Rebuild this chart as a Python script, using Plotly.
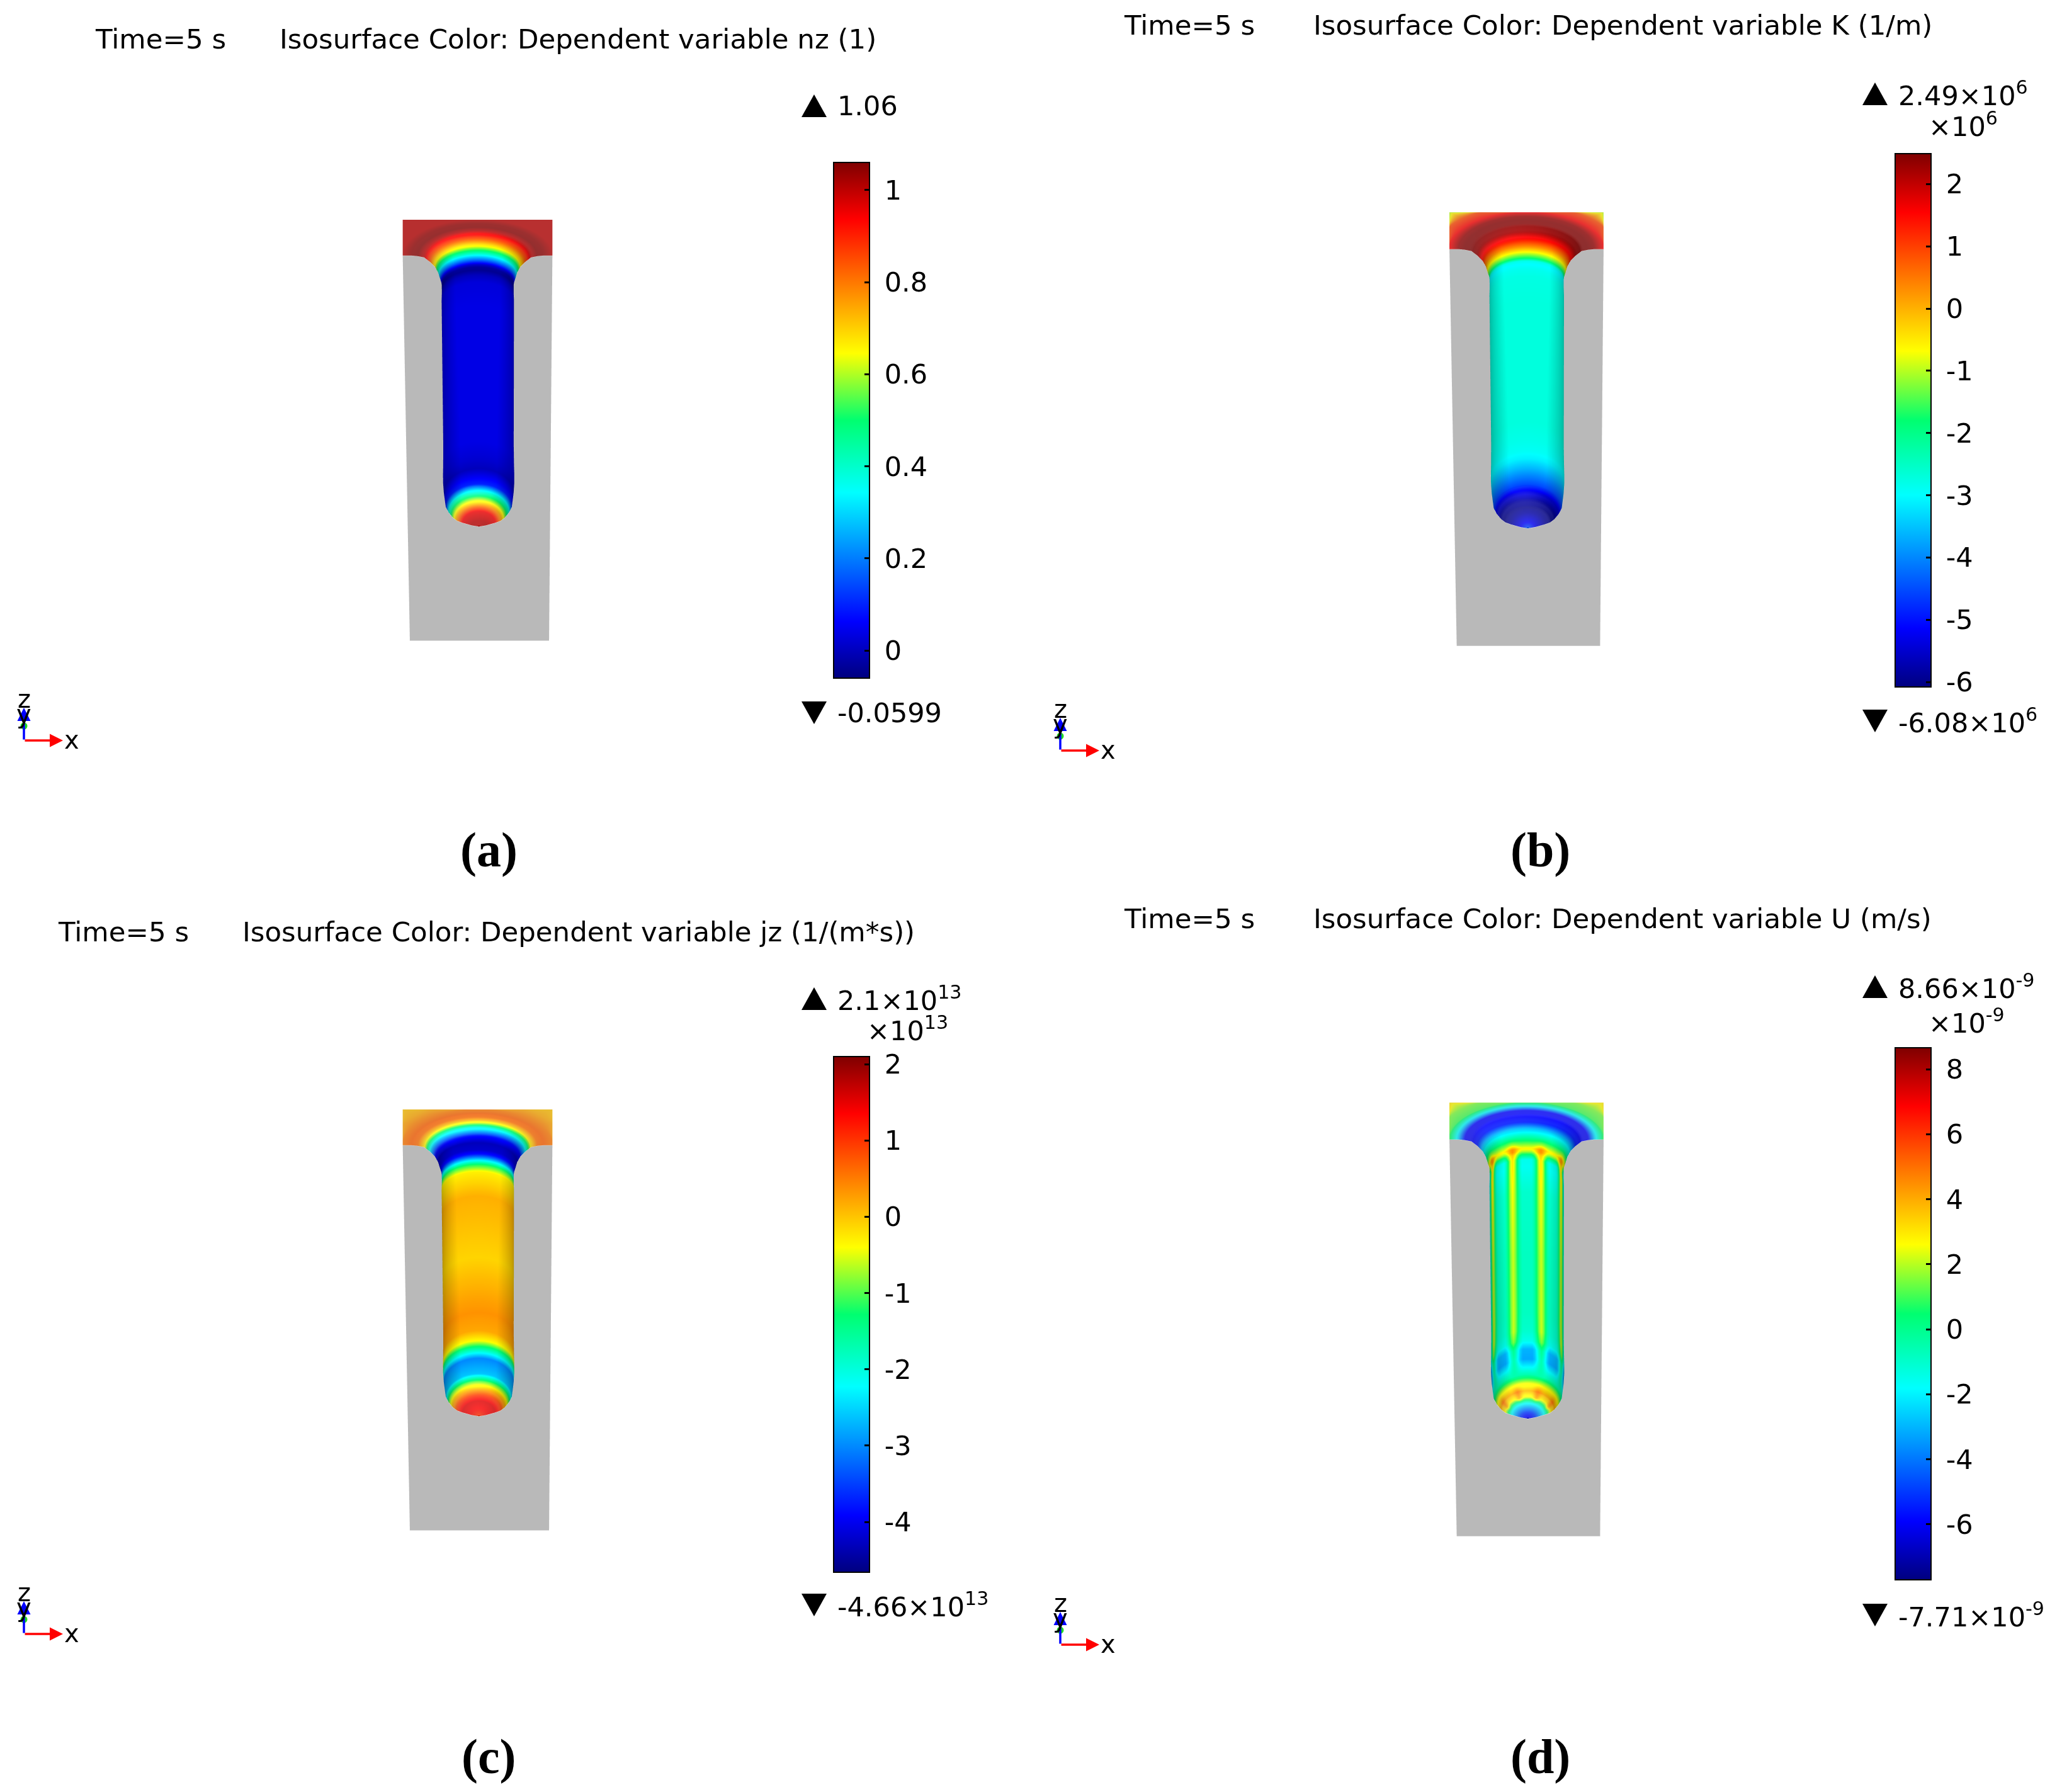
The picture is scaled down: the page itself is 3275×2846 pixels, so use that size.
#!/usr/bin/env python3
"""Four isosurface views of the filled hole at t = 5 s, nz, K, jz and U."""

import numpy as np
import plotly.graph_objects as go

FIG_W, FIG_H = 3275, 2846

# hole profile, bottom pole to square rim in pixels
PROFILE_R = [0, 12, 27, 36, 43, 50, 55, 58, 59, 59, 58.5, 58, 58, 58, 58, 57.5, 57.5, 57.5,
             58, 60, 63, 68, 76, 85, 95, 105, 120, 140, 170]
PROFILE_Z = [181, 183, 187, 190, 195, 203, 212, 235, 250, 263, 280, 310, 400, 500, 540, 552, 560, 565,
             569, 575, 585, 594, 602, 609, 611, 612, 612, 612, 612]

NZ_VALUES = [1.0, 1.0, 0.95, 0.78, 0.6, 0.38, 0.1, 0.0, 0.02, 0.03, 0.04, 0.04, 0.04, 0.04, 0.03, 0.0,
             -0.04, -0.03, 0.02, 0.18, 0.42, 0.65, 0.85, 1.0, 1.05, 1.04, 1.0, 1.0, 1.0]
K_VALUES = [-4.4, -5.2, -5.8, -6.0, -5.9, -5.4, -4.5, -3.6, -3.1, -2.9, -2.8, -2.7, -2.7, -2.7, -2.75, -2.85,
            -3.0, -2.8, -1.8, -1.0, 0.3, 1.4, 2.3, 2.45, 2.45, 2.3, 1.5, 0.9, -1.0]
JZ_VALUES = [1.0, 1.3, 1.5, 1.0, 0.2, -1.0, -2.6, -3.0, -1.6, -0.4, 0.2, 0.35, -0.1, 0.15, -0.3, -1.2,
             -2.4, -3.2, -3.8, -4.2, -4.3, -3.8, -2.2, -0.2, 0.6, 0.7, 0.5, 0.2, 0.0]
U_BETWEEN = [-6.5, -5.0, -1.5, 2.5, 4.0, 2.2, -0.5, -3.2, -3.0, -1.5, -1.0, -0.8, -0.8, -1.0, -1.6, -1.5,
             0.5, 2.0, 2.8, 1.5, -0.5, -2.5, -5.5, -6.0, -6.0, -2.5, 1.0, 1.5, 3.0]
U_ON_RIB = [-6.5, -5.0, -1.5, 4.0, 5.0, 2.2, -0.5, -0.5, 0.0, 1.5, 2.2, 2.2, 2.2, 2.6, 3.0, 3.0,
            3.5, 4.5, 4.5, 2.0, -0.5, -2.5, -5.5, -6.0, -6.0, -2.5, 1.0, 1.5, 3.0]
RIB_WEIGHTS = [0, 0, 0, 0.15, 0.45, 0.8, 1, 0.8, 0.45, 0.15, 0, 0]

PANEL_LABELS = ["(a)", "(b)", "(c)", "(d)"]
TITLES = ["Isosurface Color: Dependent variable nz (1)", "Isosurface Color: Dependent variable K (1/m)",
          "Isosurface Color: Dependent variable jz (1/(m*s))", "Isosurface Color: Dependent variable U (m/s)"]
MAX_TEXT = ["1.06", "2.49×10<sup>6</sup>", "2.1×10<sup>13</sup>", "8.66×10<sup>-9</sup>"]
MIN_TEXT = ["-0.0599", "-6.08×10<sup>6</sup>", "-4.66×10<sup>13</sup>", "-7.71×10<sup>-9</sup>"]
EXPONENTS = [None, "×10<sup>6</sup>", "×10<sup>13</sup>", "×10<sup>-9</sup>"]
RANGE_MIN = [-0.0599, -6.08, -4.66, -7.71]
RANGE_MAX = [1.06, 2.49, 2.1, 8.66]
TICK_VALS = [[0, 0.2, 0.4, 0.6, 0.8, 1], [-6, -5, -4, -3, -2, -1, 0, 1, 2], [-4, -3, -2, -1, 0, 1, 2],
             [-6, -4, -2, 0, 2, 4, 6, 8]]
TICK_TEXT = [["0", "0.2", "0.4", "0.6", "0.8", "1"], ["-6", "-5", "-4", "-3", "-2", "-1", "0", "1", "2"],
             ["-4", "-3", "-2", "-1", "0", "1", "2"], ["-6", "-4", "-2", "0", "2", "4", "6", "8"]]

JET = [[0, "#00007f"], [0.11, "#0000ff"], [0.36, "#00ffff"], [0.5, "#00ff70"], [0.63, "#ffff00"],
       [0.89, "#ff0000"], [1, "#7f0000"]]

# page layout, pixels
HOLE_X = [758, 2424, 758, 2424]
TOP_Y = [406, 396, 1819, 1810]
SCALE = [1.0, 1.03, 1.0, 1.03]
BAR_X = [1324, 3010, 1324, 3010]
BAR_TOP = [258, 244, 1678, 1664]
BAR_BOTTOM = [1077, 1091, 2497, 2509]
TITLE_Y = [62, 40, 1480, 1459]
TIME_X = [149, 1783, 90, 1783]
TITLE_X = [442, 2084, 383, 2084]
MAX_Y = [168, 149, 1586, 1567]
MIN_Y = [1132, 1145, 2549, 2565]
EXP_Y = [None, 198, 1634, 1622]
TRI_X = [1293, 2978, 1293, 2978]
LABEL_X = [776, 2446, 776, 2446]
LABEL_Y = [1349, 1349, 2789, 2789]
TRIAD_X = [38, 1684, 38, 1684]
TRIAD_Y = [1176, 1192, 2595, 2612]

SCENE_W, SCENE_H = 440, 840
DOMAIN_ZOOM = 1.047
HALF_W = 119.0
HALF_D = 119.0
EYE = 2.0
ELEV = np.radians(20)


def hole_mesh(scale):
    r = np.array(PROFILE_R, float)
    z = np.array(PROFILE_Z, float)
    theta = np.radians(np.arange(0, 180.01, 3.75))
    rr, tt = np.meshgrid(r, theta, indexing="ij")
    zz = np.repeat(z[:, None], len(theta), axis=1)
    x = np.clip(rr * np.cos(tt), -HALF_W, HALF_W)
    y = np.clip(rr * np.sin(tt), 0, HALF_D)
    return warp(x, y, zz, scale)


def warp(x, y, z, scale):
    # the view tapers downward and the back wall lifts more near the bottom
    taper = 0.93 + 0.07 * z / 612
    gain = 2.0 - 0.6 * np.clip(z - 181, 0, None) / 431
    return (x * taper * scale + 3 * (1 - z / 612), y * gain * scale, z * scale)


def cut_strip(side, scale):
    # the gray section plane beside and below the hole
    r = np.array([0] + PROFILE_R[:27], float)
    z = np.array([0] + PROFILE_Z[:27], float)
    x = np.stack([side * HALF_W * np.ones_like(r), side * r], axis=1)
    zz = np.stack([z, z], axis=1)
    return warp(x, -0.5 * np.ones_like(x), zz, scale)


def panel_colors(i):
    base = np.array([NZ_VALUES, K_VALUES, JZ_VALUES, U_BETWEEN][i], float)
    n_theta = 49
    c = np.repeat(base[:, None], n_theta, axis=1)
    if i == 3:
        w = np.array((RIB_WEIGHTS * 4 + [0])[:n_theta], float)
        c = c + np.outer(np.array(U_ON_RIB) - base, w)
    return c


fig = go.Figure()

for i in range(4):
    scene = f"scene{i + 1}" if i else "scene"
    x, y, z = hole_mesh(SCALE[i])
    bar_len = BAR_BOTTOM[i] - BAR_TOP[i]
    fig.add_trace(go.Surface(
        x=x, y=y, z=z, surfacecolor=panel_colors(i), scene=scene,
        colorscale=JET, cmin=RANGE_MIN[i], cmax=RANGE_MAX[i], hoverinfo="skip",
        lighting=dict(ambient=0.68, diffuse=0.5, specular=0.25, roughness=0.65, fresnel=0.5),
        # plotly reads this in clip space, so negative z is toward the viewer
        lightposition=dict(x=200, y=800, z=-400),
        colorbar=dict(
            x=BAR_X[i] / FIG_W, xanchor="left", xpad=0,
            y=1 - BAR_TOP[i] / FIG_H, yanchor="top", ypad=0,
            thickness=57, len=bar_len, lenmode="pixels",
            outlinecolor="black", outlinewidth=2,
            ticks="inside", ticklen=9, tickwidth=3, tickcolor="black",
            tickvals=TICK_VALS[i], ticktext=["\u00a0" + t for t in TICK_TEXT[i]],
            tickfont=dict(family="DejaVu Sans", size=43, color="black"),
        ),
    ))
    for side in (-1, 1):
        gx, gy, gz = cut_strip(side, SCALE[i])
        fig.add_trace(go.Surface(
            x=gx, y=gy, z=gz, surfacecolor=np.zeros_like(gz), scene=scene, showscale=False,
            colorscale=[[0, "#b9b9b9"], [1, "#b9b9b9"]], hoverinfo="skip",
            lighting=dict(ambient=1, diffuse=0, specular=0, fresnel=0),
        ))

    zc = 306 * SCALE[i]
    cy = TOP_Y[i] + zc
    half_w = SCENE_W / 2 * DOMAIN_ZOOM
    half_h = SCENE_H / 2 * DOMAIN_ZOOM
    fig.update_layout({scene: dict(
        domain=dict(x=[(HOLE_X[i] - half_w) / FIG_W, (HOLE_X[i] + half_w) / FIG_W],
                    y=[1 - (cy + half_h) / FIG_H, 1 - (cy - half_h) / FIG_H]),
        xaxis=dict(visible=False, range=[-SCENE_W / 2, SCENE_W / 2]),
        yaxis=dict(visible=False, range=[-SCENE_W / 2, SCENE_W / 2]),
        zaxis=dict(visible=False, range=[zc - SCENE_H / 2, zc + SCENE_H / 2]),
        aspectmode="manual",
        aspectratio=dict(x=1, y=1, z=SCENE_H / SCENE_W / np.cos(ELEV)),
        camera=dict(
            projection=dict(type="orthographic"),
            up=dict(x=0, y=0, z=1),
            center=dict(x=0, y=0, z=0),
            eye=dict(x=0, y=-EYE * np.cos(ELEV), z=EYE * np.sin(ELEV)),
        ),
        bgcolor="rgba(0,0,0,0)",
    )})

# keeps the pixel axes alive and marks the y axis dot of each triad
fig.add_trace(go.Scatter(
    x=TRIAD_X, y=[t - 23 for t in TRIAD_Y], mode="markers", hoverinfo="skip", showlegend=False,
    marker=dict(symbol="circle", size=11, color="#22dd22"),
))


def note(x, y, text, size=43.5, anchor="left", family="DejaVu Sans", color="black"):
    fig.add_annotation(xref="paper", yref="paper", x=x / FIG_W, y=1 - y / FIG_H, text=text, showarrow=False,
                       xanchor=anchor, yanchor="middle", font=dict(family=family, size=size, color=color))


def arrow(x0, y0, x1, y1, color):
    fig.add_annotation(xref="paper", yref="paper", x=x1 / FIG_W, y=1 - y1 / FIG_H, ax=x0 - x1, ay=y0 - y1,
                       axref="pixel", ayref="pixel", text="", arrowcolor=color, arrowwidth=3.5,
                       arrowhead=2, arrowsize=1.2, standoff=0, startstandoff=0)


for i in range(4):
    note(TIME_X[i], TITLE_Y[i], "Time=5 s")
    note(TITLE_X[i], TITLE_Y[i], TITLES[i])
    note(TRI_X[i] + 35, MAX_Y[i], MAX_TEXT[i], size=43)
    note(TRI_X[i] + 35, MIN_Y[i], MIN_TEXT[i], size=43)
    for cy, tip in ((MAX_Y[i], -1), (MIN_Y[i], 1)):
        tx = TRI_X[i]
        fig.add_shape(type="path", xref="x", yref="y", fillcolor="black", line_width=0,
                      path=f"M {tx - 20},{cy - 18 * tip} L {tx + 20},{cy - 18 * tip} L {tx},{cy + 18 * tip} Z")
    if EXPONENTS[i]:
        note(BAR_X[i] + 51, EXP_Y[i], EXPONENTS[i], size=43)
    note(LABEL_X[i], LABEL_Y[i], f"<b>{PANEL_LABELS[i]}</b>", size=78, anchor="center", family="Liberation Serif")
    ox, oy = TRIAD_X[i], TRIAD_Y[i]
    arrow(ox, oy, ox + 62, oy, "#ff0000")
    arrow(ox, oy, ox, oy - 52, "#0000ff")
    note(ox, oy - 66, "z", size=40, anchor="center")
    note(ox, oy - 42, "y", size=40, anchor="center")
    note(ox + 76, oy - 1, "x", size=40, anchor="center")

fig.update_layout(
    width=FIG_W, height=FIG_H, margin=dict(l=0, r=0, t=0, b=0),
    paper_bgcolor="white", plot_bgcolor="white", showlegend=False,
    xaxis=dict(visible=False, range=[0, FIG_W], domain=[0, 1]),
    yaxis=dict(visible=False, range=[FIG_H, 0], domain=[0, 1]),
)

fig.write_html("out.html", config={"displayModeBar": False}, post_script="document.body.style.margin='0';")
